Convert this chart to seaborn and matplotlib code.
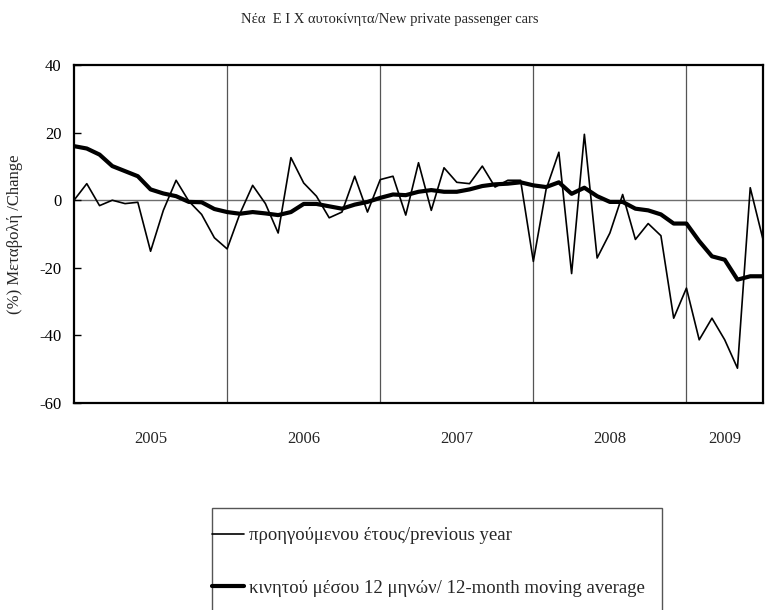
import numpy as np
import pandas as pd
import matplotlib
matplotlib.use("Agg")
import matplotlib.pyplot as plt
import seaborn as sns
from matplotlib.patches import Rectangle

# ---- data (monthly, Jan 2005 .. Jul 2009) ----
prev_year = [0, 4.9, -1.6, 0, -1, -0.6, -15.1, -3, 5.9, -0.3, -4.2, -11.1,
             -14.4, -4, 4.4, -1, -9.7, 12.6, 5.1, 1.2, -5.2, -3.5, 7.1, -3.5,
             6.1, 7.1, -4.4, 11.1, -3, 9.6, 5.3, 4.9, 10.1, 3.9, 5.9, 5.9,
             -18.1, 3.2, 14.2, -21.7, 19.5, -17.1, -9.7, 1.7, -11.6, -6.9, -10.5, -34.9,
             -26, -41.3, -34.9, -41.3, -49.7, 3.7, -11.6]
moving_avg = [16, 15.3, 13.5, 10.1, 8.6, 7.1, 3.2, 2, 1.2, -0.5, -0.6, -2.6,
              -3.5, -4, -3.5, -3.9, -4.4, -3.5, -1.1, -1.1, -1.8, -2.5, -1.3, -0.5,
              0.7, 1.7, 1.5, 2.5, 3, 2.5, 2.5, 3.2, 4.2, 4.7, 4.9, 5.3,
              4.4, 3.9, 5.3, 1.9, 3.7, 1.2, -0.5, -0.5, -2.5, -3, -4.2, -6.9,
              -6.9, -12.1, -16.6, -17.6, -23.5, -22.5, -22.5]
year_labels = ["2005", "2006", "2007", "2008", "2009"]
year_label_pos = [6, 18, 30, 42, 51]
year_bounds = [12, 24, 36, 48]
y_ticks = [40, 20, 0, -20, -40, -60]

title = "Νέα  Ε Ι Χ αυτοκίνητα/New private passenger cars"
ylabel = "(%) Μεταβολή /Change"
label_prev = "προηγούμενου έτους/previous year"
label_ma = "κινητού μέσου 12 μηνών/ 12-month moving average"

df = pd.DataFrame({"month": np.arange(len(prev_year)),
                   "prev": prev_year, "ma": moving_avg})

sns.set_theme(style="white")
plt.rcParams["font.family"] = ["Liberation Serif", "DejaVu Serif"]

fig = plt.figure(figsize=(7.8, 6.1), dpi=100)
ax = fig.add_axes([0.0949, 0.3393, 0.8833, 0.5541])

sns.lineplot(data=df, x="month", y="prev", ax=ax, color="black", linewidth=1.2,
             label=label_prev, legend=False)
sns.lineplot(data=df, x="month", y="ma", ax=ax, color="black", linewidth=3.0,
             label=label_ma, legend=False)

ax.axhline(0, color="#6e6e6e", linewidth=1.0, zorder=0)
ax.set_xlim(0, len(prev_year) - 1)
ax.set_ylim(-60, 40)
ax.set_yticks(y_ticks)
ax.set_yticklabels([str(v) for v in y_ticks])
ax.set_xticks(year_label_pos)
ax.set_xticklabels(year_labels)
ax.set_xticks(year_bounds, minor=True)
ax.grid(False)
ax.grid(which="minor", axis="x", color="#555555", linewidth=0.9)
ax.tick_params(axis="x", which="both", length=0, pad=20, labelsize=12)
ax.tick_params(axis="y", direction="in", length=5, width=1, left=True,
               pad=9, labelsize=12, colors="black")
for s in ax.spines.values():
    s.set_color("black")
    s.set_linewidth(1.6)
ax.set_xlabel("")
ax.set_ylabel("")
fig.text(15 / 780, 1 - 234 / 610, ylabel, rotation=90, ha="center", va="center",
         fontsize=12)

fig.text(0.5, 1 - 19 / 610, title, ha="center", va="center", fontsize=10.5)

# legend box (extends past the bottom of the figure, as in the original)
fig.patches.append(Rectangle((212 / 780, -0.05), (662 - 212) / 780, 0.05 + (610 - 508) / 610,
                             transform=fig.transFigure, fill=False,
                             edgecolor="#555555", linewidth=1.0, clip_on=False))
handles, labels = ax.get_legend_handles_labels()
fig.legend(handles, labels, loc="upper left",
           bbox_to_anchor=(212 / 780, 1 - 527 / 610), bbox_transform=fig.transFigure,
           frameon=False, fontsize=13.5, labelspacing=1.9, handlelength=1.7,
           handletextpad=0.3, borderaxespad=0, borderpad=0.0)

fig.savefig("out.png", dpi=100, facecolor="white")
